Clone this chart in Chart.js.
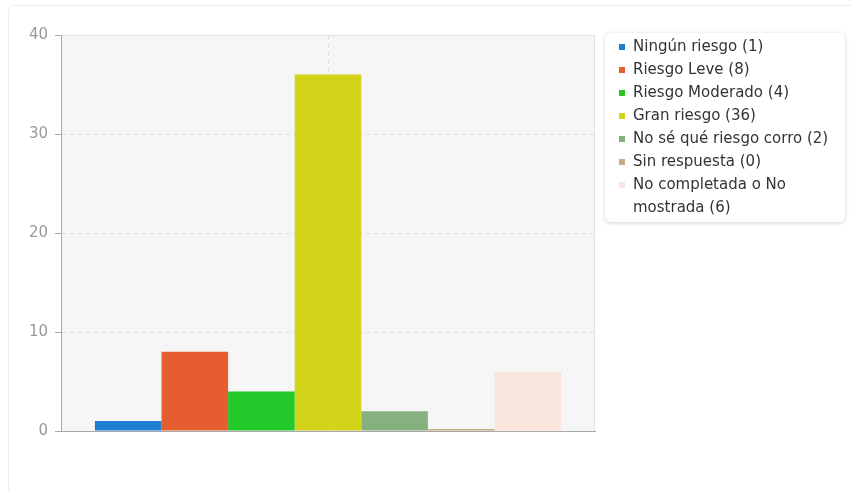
<!DOCTYPE html>
<html>
<head>
<meta charset="utf-8">
<script src="https://cdn.jsdelivr.net/npm/chart.js@4"></script>
<style>
  html, body { margin:0; padding:0; background:#fff; width:851px; height:491px; overflow:hidden; font-family:"DejaVu Sans", sans-serif; }
  #card { position:absolute; left:8px; top:5px; width:900px; height:520px; border:1px solid #ececec; border-radius:7px; box-sizing:border-box; }
  #wrap { position:absolute; left:0; top:0; width:851px; height:491px; }
  #legend { position:absolute; left:605px; top:33px; width:240px; height:189px; background:#fff; border-radius:6px; box-shadow:0 1px 4px rgba(0,0,0,0.18); box-sizing:border-box; padding:2px 4px 0 12px; }
  .item { display:flex; align-items:flex-start; font-size:15px; line-height:23px; color:#333; }
  .sw { flex:none; width:6px; height:6px; margin:9px 8px 0 2px; }
</style>
</head>
<body>
<div id="card"></div>
<div id="wrap"><canvas id="c" width="851" height="491"></canvas></div>
<div id="legend"></div>
<script>
const categories = ['Ningún riesgo', 'Riesgo Leve', 'Riesgo Moderado', 'Gran riesgo', 'No sé qué riesgo corro', 'Sin respuesta', 'No completada o No mostrada'];
const values = [1, 8, 4, 36, 2, 0, 6];
const yTicks = [0, 10, 20, 30, 40];
const colors = ['#1c7fd0', '#e65e30', '#23c92a', '#d3d31a', '#86b07f', '#c8aa86', '#fae5dd'];

const labels = categories.map((c, i) => c + ' (' + values[i] + ')');

// HTML legend (wraps long labels like the reference)
const lg = document.getElementById('legend');
labels.forEach((t, i) => {
  const d = document.createElement('div'); d.className = 'item';
  const s = document.createElement('span'); s.className = 'sw'; s.style.background = colors[i];
  const tx = document.createElement('span'); tx.textContent = t;
  d.appendChild(s); d.appendChild(tx); lg.appendChild(d);
});

function hatch(ctx) {
  const p = document.createElement('canvas'); p.width = 4; p.height = 4;
  const g = p.getContext('2d');
  g.fillStyle = '#f8f8f8'; g.fillRect(0, 0, 4, 4);
  g.fillStyle = '#eeeeee';
  g.fillRect(0, 3, 1, 1); g.fillRect(1, 2, 1, 1); g.fillRect(2, 1, 1, 1); g.fillRect(3, 0, 1, 1);
  return ctx.createPattern(p, 'repeat');
}

const bgPlugin = {
  id: 'bg',
  beforeDraw(chart) {
    const { ctx, chartArea: a } = chart;
    ctx.save();
    ctx.fillStyle = hatch(ctx);
    ctx.fillRect(a.left, a.top, a.right - a.left, a.bottom - a.top);
    ctx.strokeStyle = '#e2e2e2'; ctx.lineWidth = 1;
    ctx.beginPath();
    ctx.moveTo(a.left, a.top + 0.5); ctx.lineTo(a.right, a.top + 0.5);
    ctx.moveTo(a.right - 0.5, a.top); ctx.lineTo(a.right - 0.5, a.bottom);
    ctx.stroke();
    ctx.restore();
  }
};

new Chart(document.getElementById('c'), {
  type: 'bar',
  data: {
    labels: [''],
    datasets: categories.map((c, i) => ({
      label: labels[i],
      data: [values[i]],
      backgroundColor: colors[i],
      borderWidth: 0,
      minBarLength: 2
    }))
  },
  options: {
    responsive: false,
    animation: false,
    events: [],
    layout: { padding: { left: 0, top: 35, right: 256, bottom: 60 } },
    datasets: { bar: { categoryPercentage: 0.873, barPercentage: 1 } },
    plugins: { legend: { display: false }, tooltip: { enabled: false } },
    scales: {
      x: {
        ticks: { display: false },
        grid: { offset: false, color: '#dddddd', drawTicks: false },
        border: { color: '#a8a8a8', width: 1, dash: [4, 4] },
        afterFit: s => { s.height = 0; }
      },
      y: {
        min: 0, max: 40,
        afterBuildTicks: s => { s.ticks = yTicks.map(v => ({ value: v })); },
        ticks: { color: '#999', font: { family: 'DejaVu Sans', size: 15 }, padding: 7 },
        grid: {
          color: c => (c.tick && (c.tick.value === 0 || c.tick.value === 40)) ? 'rgba(0,0,0,0)' : '#e0e0e0',
          tickColor: '#a8a8a8', tickLength: 6, tickBorderDash: []
        },
        border: { color: '#a8a8a8', width: 1, dash: [4, 4] },
        afterFit: s => { s.width = 61; }
      }
    }
  },
  plugins: [bgPlugin]
});
</script>
</body>
</html>
